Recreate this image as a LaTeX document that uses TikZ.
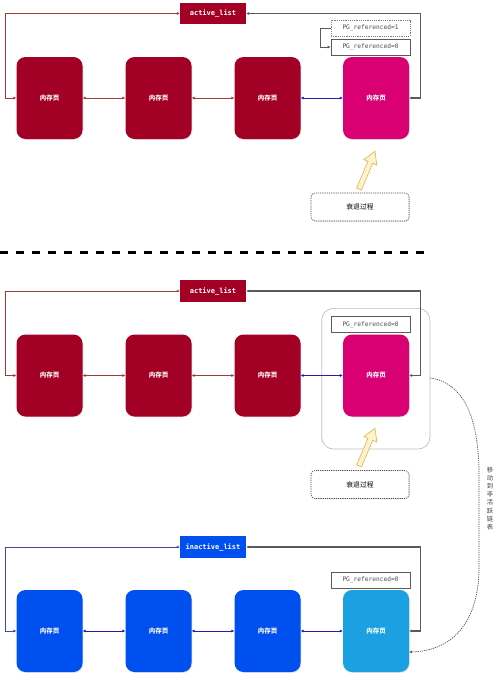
\documentclass[tikz,border=0pt]{standalone}
\usepackage{fontspec}
\newfontfamily\cjk{Noto Sans CJK SC}
\newfontfamily\monofont{DejaVu Sans Mono}
\usetikzlibrary{arrows.meta,shadows,calc}
\definecolor{pgred}{HTML}{A20025}
\definecolor{pgpink}{HTML}{D80073}
\definecolor{pgblue}{HTML}{0050EF}
\definecolor{pglblue}{HTML}{1BA1E2}
\definecolor{redln}{HTML}{A33A3A}
\definecolor{blueln}{HTML}{2020B0}
\definecolor{purpln}{HTML}{4545A8}
\definecolor{grayln}{HTML}{5A5A5A}
\definecolor{yfill}{HTML}{FFF2CC}
\definecolor{ydraw}{HTML}{D6B656}
\tikzset{
  tip/.style={{Latex[length=3pt,width=3pt]}-{Latex[length=3pt,width=3pt]}},
  onetip/.style={-{Latex[length=3pt,width=3pt]}},
  page/.style={minimum width=66pt,minimum height=82pt,rounded corners=9pt,inner sep=0pt,text=white,
    font=\cjk\bfseries\fontsize{6.5}{7}\selectfont,drop shadow={opacity=0.2,shadow xshift=0.8pt,shadow yshift=-0.8pt}},
  listbox/.style={minimum width=66pt,minimum height=21.6pt,inner sep=0pt,text=white,
    font=\monofont\bfseries\fontsize{7}{8}\selectfont},
  pgbox/.style={draw=grayln,line width=0.7pt,minimum width=79pt,minimum height=16pt,inner sep=0pt,fill=white,
    text=black!70,font=\monofont\fontsize{6.2}{7}\selectfont},
  decaybox/.style={draw=black!70,dash pattern=on 1.2pt off 1pt,line width=0.6pt,rounded corners=4pt,
    minimum width=98pt,minimum height=28pt,fill=white,font=\cjk\fontsize{6.8}{7}\selectfont,
    drop shadow={opacity=0.2,shadow xshift=0.8pt,shadow yshift=-0.8pt}},
  redline/.style={draw=redln,line width=0.7pt},
  blueline/.style={draw=blueln,line width=0.7pt},
  grayline/.style={draw=grayln,line width=1.1pt},
}
\newcommand{\yarrow}[3]{%
  \begin{scope}[shift={(#1,#2)},rotate=#3]
    \filldraw[fill=yfill,draw=ydraw,line width=0.6pt]
      (0,2.6) -- (29,2.6) -- (29,7) -- (41,0) -- (29,-7) -- (29,-2.6) -- (0,-2.6) -- cycle;
  \end{scope}}
\begin{document}
\begin{tikzpicture}[x=1pt,y=-1pt]
\useasboundingbox (0,0) rectangle (500,680);
\fill[white] (0,0) rectangle (500,680);

% ---------- top section ----------
\node[listbox,fill=pgred] (al1) at (213,13.5) {active\_list};
\node[page,fill=pgred]  (a1) at (49.5,98) {内存页};
\node[page,fill=pgred]  (a2) at (158.5,98) {内存页};
\node[page,fill=pgred]  (a3) at (267.5,98) {内存页};
\node[page,fill=pgpink] (a4) at (376,98) {内存页};
\draw[redline,tip] (a1) -- (a2);
\draw[redline,tip] (a2) -- (a3);
\draw[blueline,tip] (a3) -- (a4);
\draw[redline,tip] (a1.west) -- ++(-10.7,0) |- (al1.west);
\draw[grayline,tip] (a4.east) -- ++(11,0) |- (al1.east);
\node[pgbox,draw=black!50,dash pattern=on 1.2pt off 1pt] (p1) at (370.5,28) {PG\_referenced=1};
\node[pgbox] (p0) at (370.5,47) {PG\_referenced=0};
\draw[grayline,line width=0.7pt,onetip] (p1.west) -- ++(-10,0) |- (p0.west);
\node[decaybox] (d1) at (360,207) {衰退过程};
\yarrow{359}{189}{67}

% ---------- divider ----------
\coordinate (dvl) at (0,252.7);
\coordinate (dvr) at (428,252.7);
\draw[line width=3pt,dash pattern=on 8pt off 8pt] (dvl) -- (dvr);

% ---------- middle section ----------
\node[draw=black!25,line width=0.7pt,rounded corners=12pt,minimum width=108.3pt,minimum height=140.7pt] (ct) at (375.8,378.7) {};
\node[listbox,fill=pgred] (al2) at (213,291) {active\_list};
\node[page,fill=pgred]  (m1) at (49.5,375.5) {内存页};
\node[page,fill=pgred]  (m2) at (158.5,375.5) {内存页};
\node[page,fill=pgred]  (m3) at (267.5,375.5) {内存页};
\node[page,fill=pgpink] (m4) at (376,375.5) {内存页};
\draw[redline,tip] (m1) -- (m2);
\draw[redline,tip] (m2) -- (m3);
\draw[blueline,tip] (m3) -- (m4);
\draw[redline,tip] (m1.west) -- ++(-10.7,0) |- (al2.west);
\draw[grayline,tip] (m4.east) -- ++(11,0) |- (al2.east);
\node[pgbox] (q0) at (370.5,324.7) {PG\_referenced=0};
\node[decaybox] (d2) at (360,484.5) {衰退过程};
\yarrow{359}{466}{67}

% ---------- bottom section ----------
\node[listbox,fill=pgblue] (il) at (213,547) {inactive\_list};
\node[page,fill=pgblue]  (b1) at (49.5,631) {内存页};
\node[page,fill=pgblue]  (b2) at (158.5,631) {内存页};
\node[page,fill=pgblue]  (b3) at (267.5,631) {内存页};
\node[page,fill=pglblue] (b4) at (376,631) {内存页};
\draw[blueline,tip] (b1) -- (b2);
\draw[blueline,tip] (b2) -- (b3);
\draw[blueline,tip] (b3) -- (b4);
\draw[draw=purpln,line width=0.7pt,tip] (b1.west) -- ++(-10.7,0) |- (il.west);
\draw[grayline,tip] (b4.east) -- ++(11,0) |- (il.east);
\node[pgbox] (r0) at (370.5,580) {PG\_referenced=0};

% ---------- move arrow ----------
\coordinate (mvs) at (ct.east |- 0,378);
\coordinate (mve) at ($(b4.east)+(0,21)$);
\draw[black!70,line width=0.7pt,dash pattern=on 1.2pt off 1pt,onetip]
  (mvs) .. controls (465,383) and (478,420) .. (479,470) -- (479,570)
  .. controls (478,625) and (450,651) .. (mve);
\node[align=center,text=black!75,font=\cjk\fontsize{6.3}{8.1}\selectfont,inner sep=0pt] (mvt) at (490,498.5)
  {移\\动\\到\\非\\活\\跃\\链\\表};
\end{tikzpicture}
\end{document}
